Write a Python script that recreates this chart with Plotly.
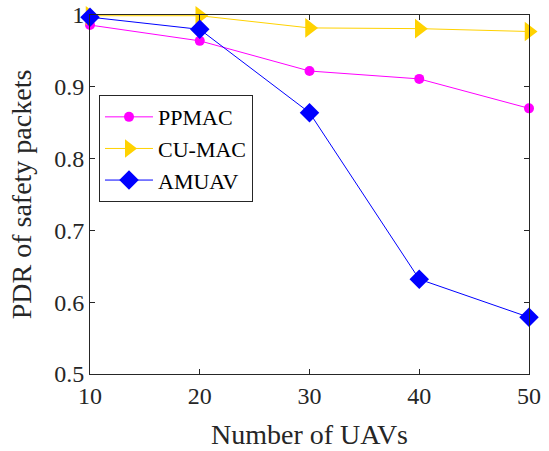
import plotly.graph_objects as go

uavs = [10, 20, 30, 40, 50]
ppmac = [0.986, 0.964, 0.922, 0.911, 0.870]
cumac = [0.999, 0.999, 0.982, 0.981, 0.977]
amuav = [0.997, 0.980, 0.864, 0.632, 0.579]

font_family = "Liberation Serif, Times New Roman, serif"

fig = go.Figure()
fig.add_trace(go.Scatter(x=uavs, y=ppmac, name="PPMAC", mode="lines+markers",
                         line=dict(color="#FF00FF", width=1),
                         marker=dict(symbol="circle", size=10, color="#FF00FF"),
                         cliponaxis=False))
fig.add_trace(go.Scatter(x=uavs, y=cumac, name="CU-MAC", mode="lines+markers",
                         line=dict(color="#FFD200", width=1),
                         marker=dict(symbol="triangle-right", size=17, color="#FFD200"),
                         cliponaxis=False))
fig.add_trace(go.Scatter(x=uavs, y=amuav, name="AMUAV", mode="lines+markers",
                         line=dict(color="#0000FF", width=1),
                         marker=dict(symbol="diamond", size=15, color="#0000FF"),
                         cliponaxis=False))

axis_common = dict(showline=True, linecolor="#262626", linewidth=1, mirror="ticks",
                   ticks="inside", ticklen=5, tickcolor="#262626", showgrid=False,
                   zeroline=False, automargin=False,
                   tickfont=dict(family=font_family, size=24, color="#262626"))

fig.update_layout(
    width=549, height=451,
    margin=dict(l=90, r=20, t=15, b=77),
    paper_bgcolor="white", plot_bgcolor="white",
    font=dict(family=font_family, color="#262626"),
    xaxis=dict(range=[10, 50], tickvals=[10, 20, 30, 40, 50],
               title=dict(text="Number of UAVs", font=dict(family=font_family, size=28), standoff=16),
               **axis_common),
    yaxis=dict(range=[0.5, 1], tickvals=[0.5, 0.6, 0.7, 0.8, 0.9, 1.0],
               ticktext=["0.5", "0.6", "0.7", "0.8", "0.9", "1"],
               title=dict(text="PDR of safety packets", font=dict(family=font_family, size=28), standoff=14),
               **axis_common),
    legend=dict(x=0.0205, y=0.777, xanchor="left", yanchor="top",
                bordercolor="#262626", borderwidth=1, bgcolor="white",
                font=dict(family=font_family, size=22, color="black"),
                tracegroupgap=0, itemwidth=48),
    showlegend=True,
)

fig.write_html("out.html")
